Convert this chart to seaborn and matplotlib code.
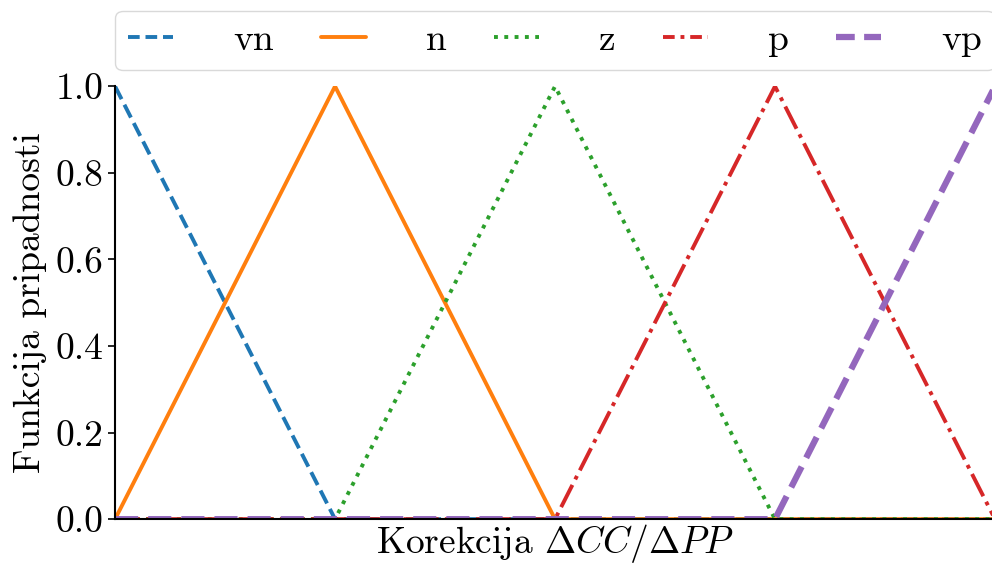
import numpy as np
import pandas as pd
import seaborn as sns
import matplotlib.pyplot as plt

# knot points of the membership functions
x_knots = [-1.0, -0.5, 0.0, 0.5, 1.0]
vn = [1.0, 0.0, 0.0, 0.0, 0.0]
n = [0.0, 1.0, 0.0, 0.0, 0.0]
z = [0.0, 0.0, 1.0, 0.0, 0.0]
p = [0.0, 0.0, 0.0, 1.0, 0.0]
vp = [0.0, 0.0, 0.0, 0.0, 1.0]

labels = ["vn", "n", "z", "p", "vp"]
series = [vn, n, z, p, vp]
styles = ["--", "-", ":", "-.", "--"]
widths = [2.8, 2.8, 2.8, 2.8, 4.5]


def set_config():
    sns.set_style("ticks")
    plt.rcParams["font.family"] = ["cmr10", "DejaVu Serif"]
    plt.rcParams["mathtext.fontset"] = "cm"
    plt.rcParams["axes.formatter.use_mathtext"] = True
    plt.rcParams["axes.unicode_minus"] = False
    for k in ["text.color", "axes.labelcolor", "xtick.color", "ytick.color", "axes.edgecolor"]:
        plt.rcParams[k] = "black"


def main():
    set_config()
    colors = sns.color_palette("tab10")
    fig, ax = plt.subplots(figsize=(9.92, 5.68), dpi=100)
    fig.subplots_adjust(left=0.116, right=1.003, top=0.848, bottom=0.086)

    for i, (lab, vals) in enumerate(zip(labels, series)):
        df = pd.DataFrame({"x": x_knots, "y": vals})
        sns.lineplot(data=df, x="x", y="y", ax=ax, color=colors[i],
                     linestyle=styles[i], linewidth=widths[i], label=lab)

    ax.set_xlim(-1, 1)
    ax.set_ylim(0, 1)
    ax.set_xticks([])
    ax.set_yticks([0, 0.2, 0.4, 0.6, 0.8, 1.0])
    ax.set_yticklabels(["0.0", "0.2", "0.4", "0.6", "0.8", "1.0"])
    ax.tick_params(axis="y", labelsize=27, length=5, width=1.2)
    ax.set_xlabel(r"Korekcija $\Delta CC/\Delta PP$", fontsize=27, labelpad=2)
    ax.set_ylabel("Funkcija pripadnosti", fontsize=27, labelpad=6)
    for s in ["left", "bottom"]:
        ax.spines[s].set_linewidth(1.5)
    sns.despine(ax=ax)

    leg = ax.legend(loc="lower left", bbox_to_anchor=(0, 1.037, 1, 0.15), mode="expand",
                    ncol=5, fontsize=27, handlelength=1.2, handletextpad=1.6,
                    frameon=True, fancybox=True, borderaxespad=0, borderpad=0.35)
    leg.get_frame().set_edgecolor("#d0d0d0")
    for h in leg.get_lines():
        if h.get_linestyle() in ("--", "-."):
            h.set_dashes([3, 1.5] if h.get_linestyle() == "--" else [3, 1.5, 1, 1.5])
    fig.savefig("out.png", dpi=100)


if __name__ == "__main__":
    main()
